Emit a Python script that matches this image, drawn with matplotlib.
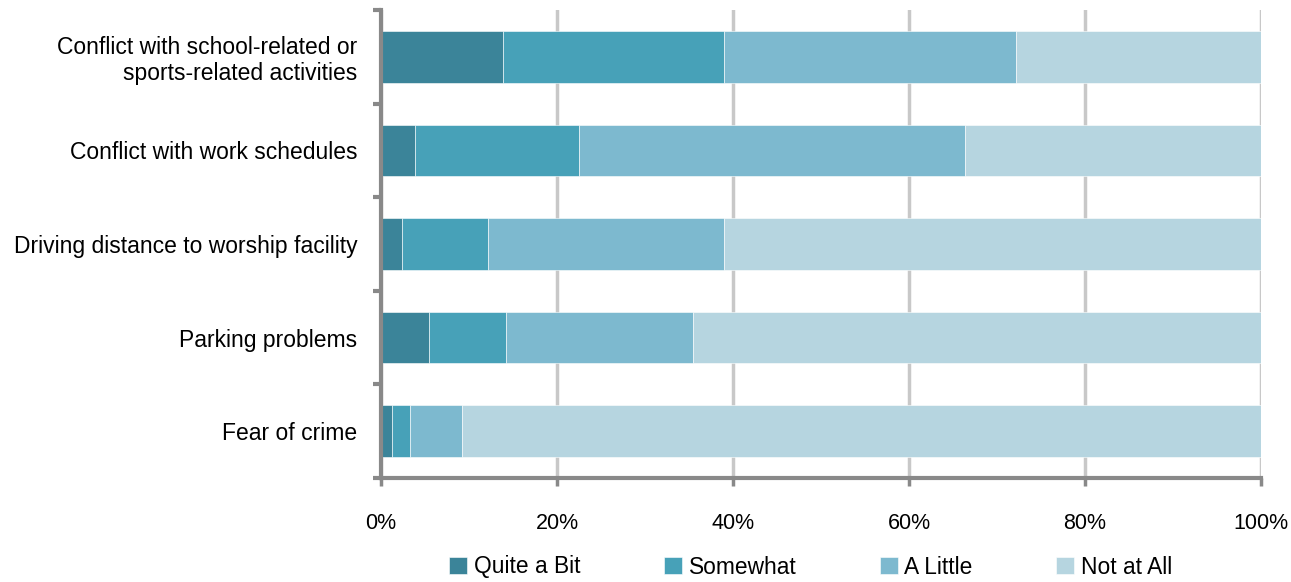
import matplotlib
matplotlib.use("Agg")
import matplotlib.pyplot as plt
import numpy as np

plt.rcParams['font.family'] = ['Liberation Sans', 'DejaVu Sans']

categories = [
    "Conflict with school-related or\nsports-related activities",
    "Conflict with work schedules",
    "Driving distance to worship facility",
    "Parking problems",
    "Fear of crime",
]
series_names = ["Quite a Bit", "Somewhat", "A Little", "Not at All"]
quite_a_bit = [13.9, 3.9, 2.4, 5.4, 1.3]
somewhat = [25.1, 18.6, 9.8, 8.8, 2.0]
a_little = [33.2, 43.9, 26.8, 21.3, 5.9]
not_at_all = [27.8, 33.6, 61.0, 64.5, 90.8]
x_ticks = [0, 20, 40, 60, 80, 100]
x_tick_labels = ["0%", "20%", "40%", "60%", "80%", "100%"]

colors = ["#3B8499", "#47A1B8", "#7DB9CF", "#B6D5E0"]
axis_gray = "#898989"
grid_gray = "#C8C8C8"

fig = plt.figure(figsize=(12.91, 5.82), dpi=100)
ax = fig.add_axes([381 / 1291, 1 - 478 / 582, 880 / 1291, 468 / 582])

y = np.arange(len(categories))
left = np.zeros(len(categories))
for name, vals, col in zip(series_names, [quite_a_bit, somewhat, a_little, not_at_all], colors):
    ax.barh(y, vals, left=left, height=0.55, color=col, label=name,
            edgecolor="white", linewidth=0.4, zorder=3)
    left += np.array(vals)

ax.set_xlim(0, 100)
ax.set_ylim(len(categories) - 0.5, -0.5)
ax.set_xticks(x_ticks)
ax.set_xticklabels(x_tick_labels, fontsize=15.5)
ax.set_yticks(y)
ax.set_yticklabels(categories, fontsize=16.5, ha="right", linespacing=1.15)
ax.tick_params(axis="y", length=0, pad=17)
ax.tick_params(axis="x", length=6, width=2.5, color=axis_gray, pad=19)

# category boundary ticks on the left axis
ax.set_yticks(np.arange(-0.5, len(categories), 1.0), minor=True)
ax.tick_params(axis="y", which="minor", length=6, width=3, color=axis_gray)

ax.xaxis.grid(True, color=grid_gray, linewidth=2.5, zorder=0)
ax.set_axisbelow(True)
for s in ["top", "right"]:
    ax.spines[s].set_visible(False)
for s in ["left", "bottom"]:
    ax.spines[s].set_color(axis_gray)
    ax.spines[s].set_linewidth(3)
    ax.spines[s].set_zorder(4)

fig.legend(loc="center", bbox_to_anchor=(0.628, 1 - 567 / 582), ncol=4,
           frameon=False, fontsize=16.4, handlelength=0.79, handleheight=0.79,
           handletextpad=0.3, columnspacing=3.65)

fig.savefig("out.png", dpi=100)
